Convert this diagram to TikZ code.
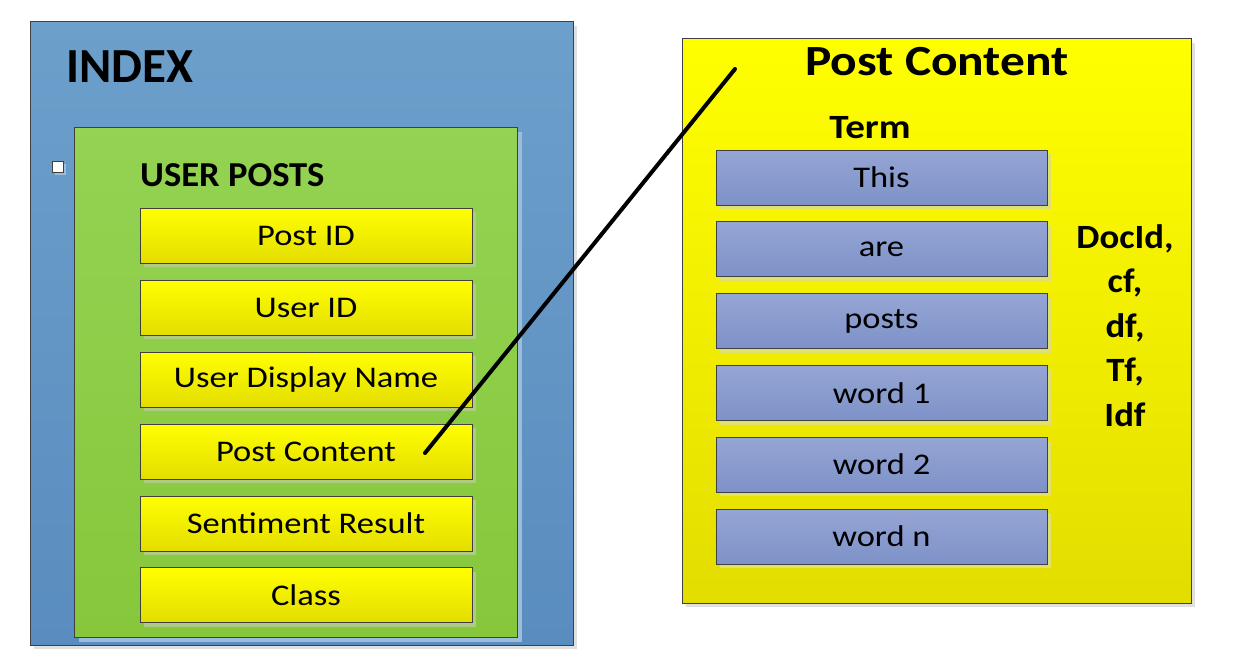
\documentclass[tikz,border=0pt]{standalone}
\usepackage{fontspec}
\setmainfont{Carlito}
\newfontfamily\boxfont[FakeStretch=1.15]{Carlito}
\newfontfamily\docfont[FakeStretch=1.08]{Carlito}
\newfontfamily\upfont[FakeStretch=1.045]{Carlito}
\usetikzlibrary{shadows}
\definecolor{edgegray}{HTML}{404040}
\definecolor{idxtop}{HTML}{6C9FCA}
\definecolor{idxbot}{HTML}{5A8DBF}
\definecolor{grntop}{HTML}{94D353}
\definecolor{grnbot}{HTML}{86C73B}
\definecolor{yeltop}{HTML}{FFFF00}
\definecolor{yelbot}{HTML}{E3DD00}
\definecolor{blutop}{HTML}{95A5D4}
\definecolor{blubot}{HTML}{7E92C8}
\definecolor{shgray}{HTML}{E0E0E0}
\definecolor{shblue}{HTML}{9DBCD9}
\definecolor{shgreen}{HTML}{AECB86}
\definecolor{shyel}{HTML}{E0E070}
\tikzset{
  panel/.style={draw=edgegray, line width=1pt, rectangle, inner sep=0pt},
  indexbox/.style={panel, shading=axis, top color=idxtop, bottom color=idxbot,
    minimum width=543pt, minimum height=623pt,
    drop shadow={shadow xshift=4pt, shadow yshift=-4pt, fill=shgray, opacity=1}},
  greenbox/.style={panel, shading=axis, top color=grntop, bottom color=grnbot,
    minimum width=443pt, minimum height=510pt,
    drop shadow={shadow xshift=5pt, shadow yshift=-5pt, fill=shblue, opacity=1}},
  rightbox/.style={panel, shading=axis, top color=yeltop, bottom color=yelbot,
    minimum width=509pt, minimum height=564pt,
    drop shadow={shadow xshift=4pt, shadow yshift=-4pt, fill=shgray, opacity=1}},
  fieldbox/.style={panel, shading=axis, top color=yeltop, bottom color=yelbot,
    minimum width=332pt, minimum height=55pt,
    font=\boxfont\fontsize{30}{36}\selectfont,
    drop shadow={shadow xshift=4pt, shadow yshift=-4pt, fill=shgreen, opacity=1}},
  termbox/.style={panel, shading=axis, top color=blutop, bottom color=blubot,
    minimum width=331pt, minimum height=55pt,
    font=\boxfont\fontsize{30}{36}\selectfont,
    drop shadow={shadow xshift=4pt, shadow yshift=-4pt, fill=shyel, opacity=1}},
  bigtitle/.style={font=\bfseries\fontsize{49}{56}\selectfont, inner sep=0pt},
  midtitle/.style={font=\upfont\bfseries\fontsize{35}{42}\selectfont, inner sep=0pt},
  termtitle/.style={font=\boxfont\bfseries\fontsize{34}{40}\selectfont, inner sep=0pt},
  measure/.style={font=\docfont\bfseries\fontsize{34}{40}\selectfont, inner sep=0pt, anchor=base},
  link/.style={line width=4pt, line cap=round, black}
}
\begin{document}
\begin{tikzpicture}[x=1pt, y=-1pt]
\useasboundingbox (0,0) rectangle (1237,669);
% INDEX
\node[indexbox] (index) at (301.5,333.5) {};
\node[bigtitle, anchor=base west] (indextitle) at (66,82) {INDEX};
\node[draw=edgegray, fill=white, line width=0.8pt, minimum size=11pt, inner sep=0pt,
  drop shadow={shadow xshift=2.5pt, shadow yshift=-2.5pt, fill=shblue, opacity=1}] (tick) at (57.5,166.5) {};
% USER POSTS
\node[greenbox] (posts) at (295.5,382) {};
\node[midtitle, anchor=base west] (poststitle) at (140,186) {USER POSTS};
\node[fieldbox] (pid) at (306,235.5) {Post ID};
\node[fieldbox] (uid) at (306,307.5) {User ID};
\node[fieldbox] (uname) at (306,379.5) {User Display Name};
\node[fieldbox] (pc) at (306,451.5) {Post Content};
\node[fieldbox] (sent) at (306,523.5) {Sentiment Result};
\node[fieldbox] (cls) at (306,595) {Class};
% Post Content panel
\node[rightbox] (content) at (936.5,321) {};
\node[font=\boxfont\bfseries\fontsize{43}{50}\selectfont, inner sep=0pt, anchor=base] (contenttitle) at (937,76) {Post Content};
\node[termtitle, anchor=base] (term) at (870,138) {Term};
\node[termbox] (t1) at (881.5,177.5) {This};
\node[termbox] (t2) at (881.5,249) {are};
\node[termbox] (t3) at (881.5,321) {posts};
\node[termbox] (t4) at (881.5,393) {word 1};
\node[termbox] (t5) at (881.5,464.5) {word 2};
\node[termbox] (t6) at (881.5,536.5) {word n};
\node[measure] (m1) at (1125,248) {DocId,};
\node[measure] (m2) at (1125,292.5) {cf,};
\node[measure] (m3) at (1125,337) {df,};
\node[measure] (m4) at (1125,381.5) {Tf,};
\node[measure] (m5) at (1125,426) {Idf};
% connector
\coordinate (linkstart) at (425,453);
\coordinate (linkend) at (735,69);
\draw[link] (linkstart) -- (linkend);
\end{tikzpicture}
\end{document}
